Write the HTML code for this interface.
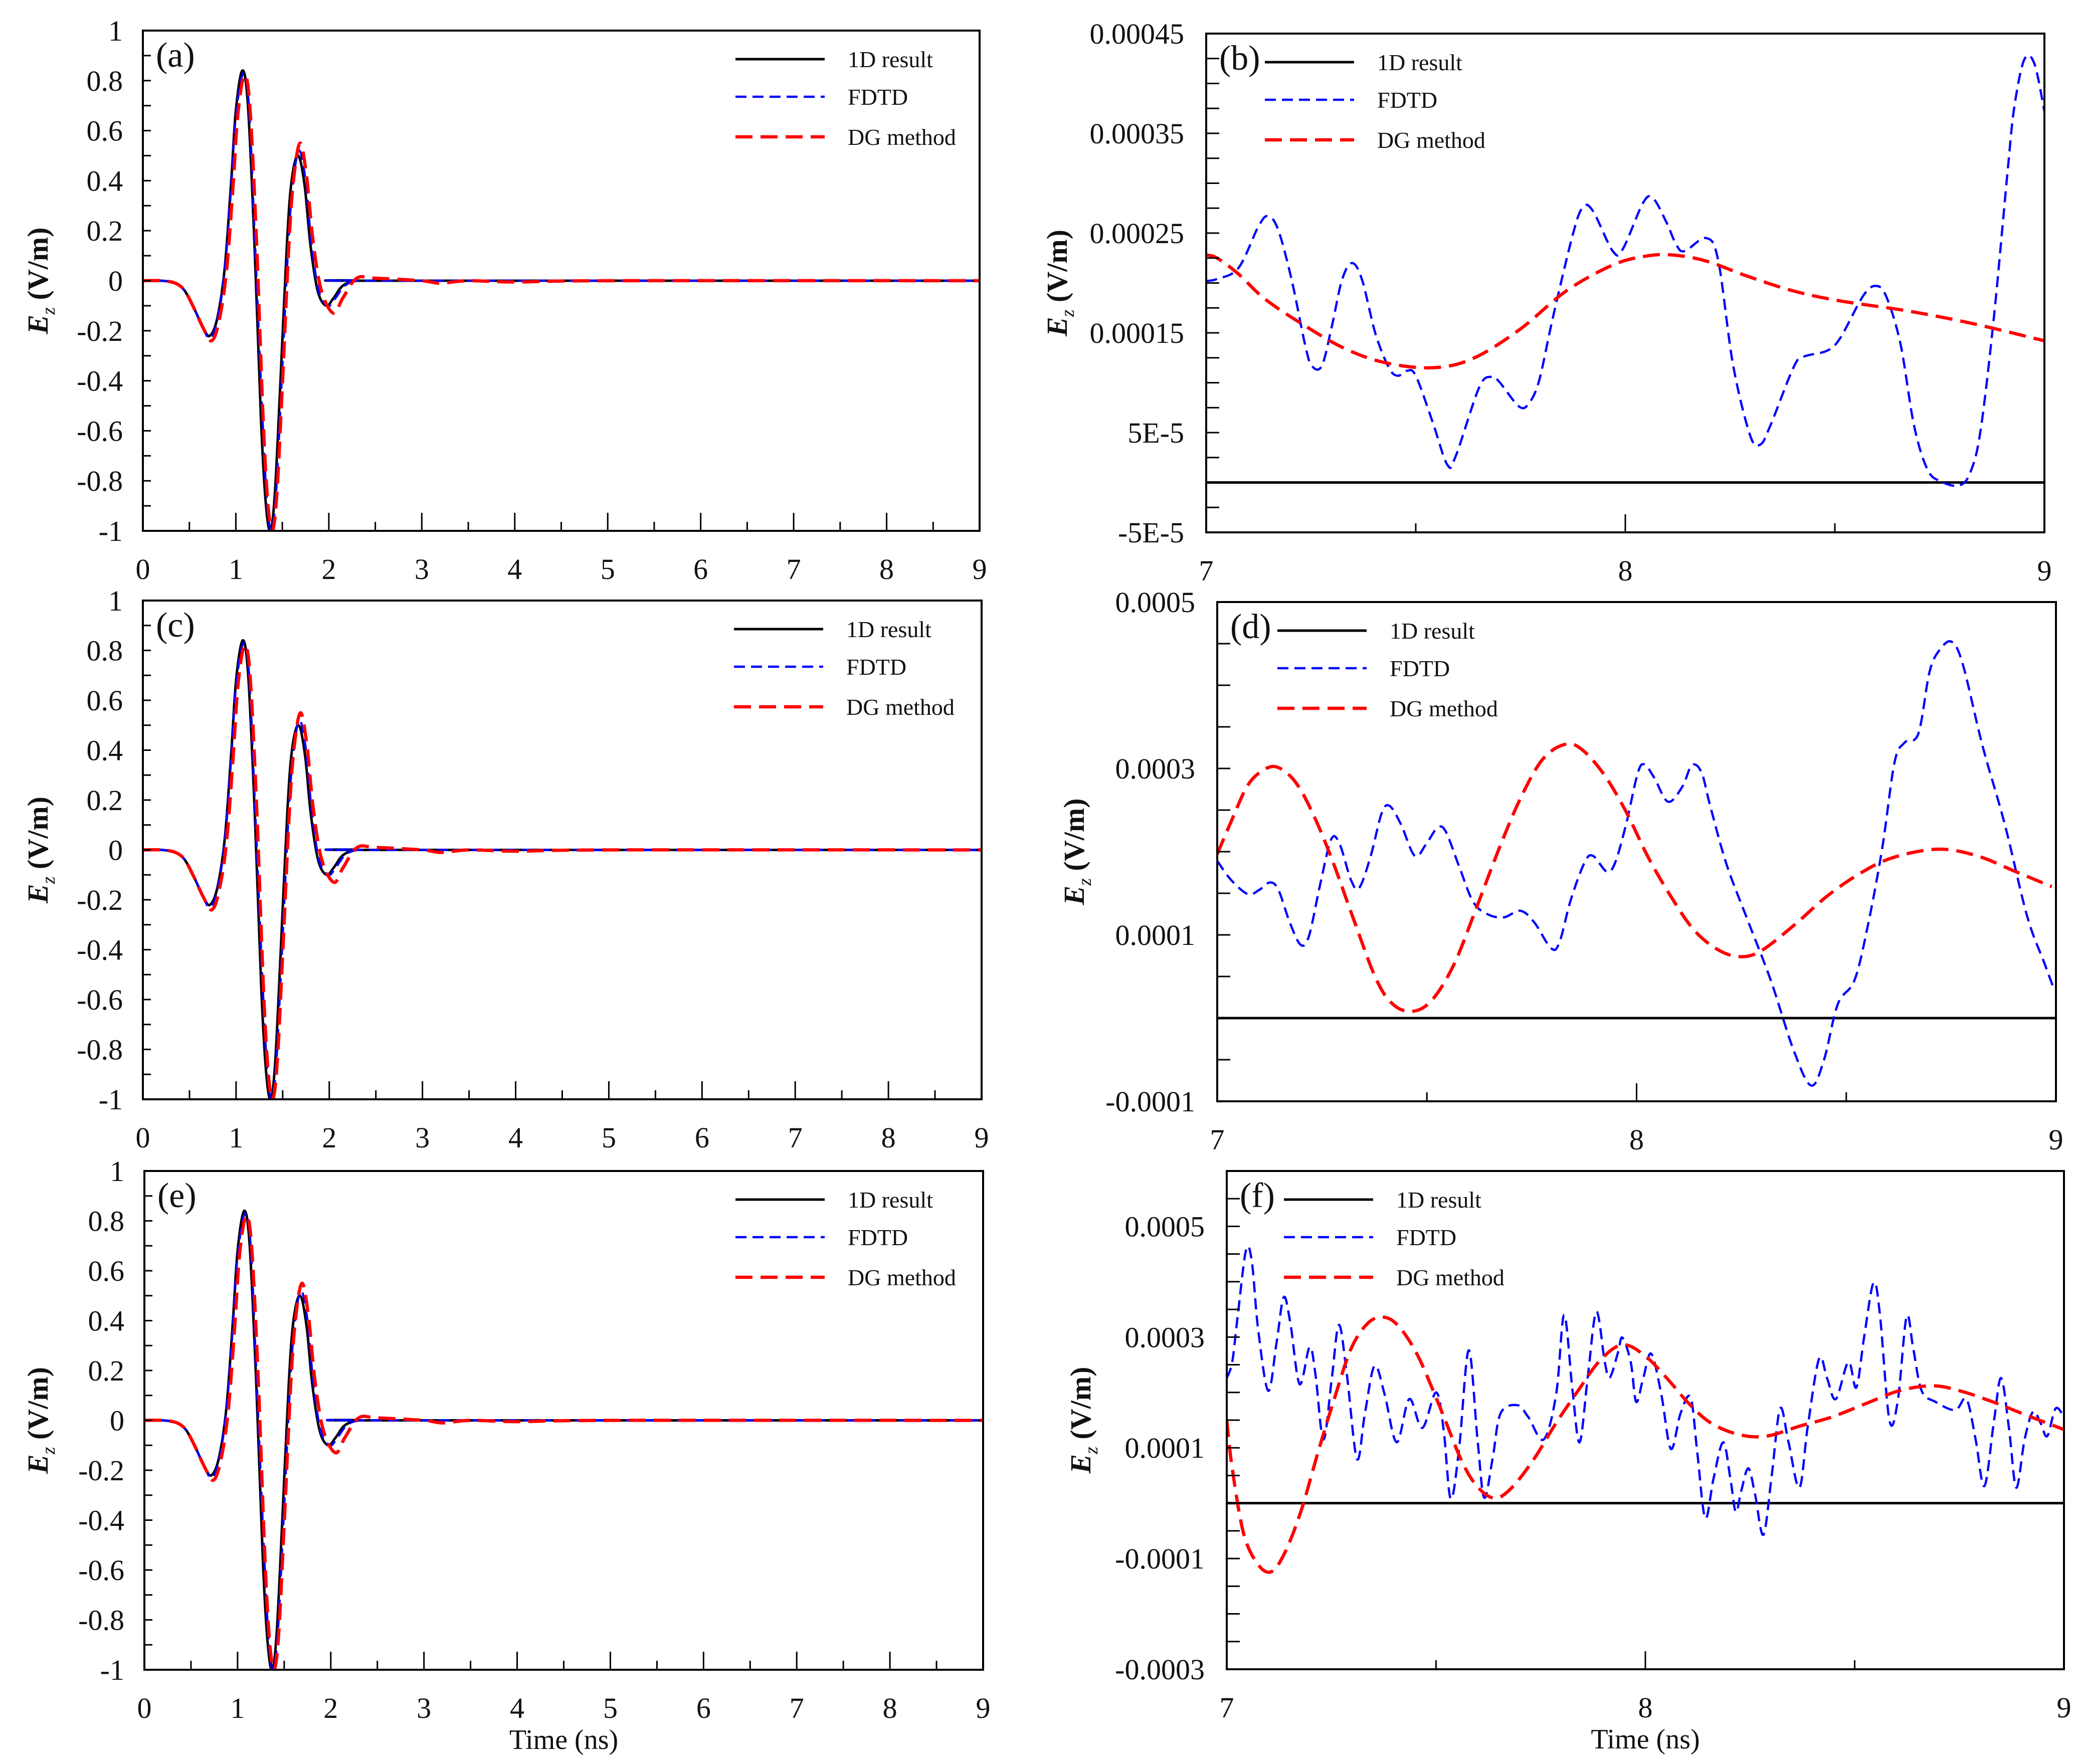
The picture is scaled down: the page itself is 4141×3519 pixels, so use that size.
<!DOCTYPE html>
<html><head><meta charset="utf-8">
<style>
html,body{margin:0;padding:0;background:#fff;}
svg{display:block;}
text{font-family:"Liberation Serif",serif;fill:#111;}
</style></head>
<body>
<svg id="fig" width="4141" height="3519" viewBox="0 0 4141 3519" xmlns="http://www.w3.org/2000/svg"></svg>
<script>
// ---- data: left panels (a),(c),(e) ----
const pulseT1D = [0,0.2,0.35,0.45,0.55,0.65,0.72,0.8,0.88,0.95,1.0,1.07,1.13,1.2,1.27,1.32,1.37,1.42,1.48,1.55,1.6,1.67,1.74,1.8,1.88,1.97,2.05,2.15,2.3,2.5,9];
const pulseV1D = [0,0,-0.01,-0.04,-0.11,-0.19,-0.22,-0.15,0.05,0.4,0.68,0.84,0.7,0.15,-0.55,-0.88,-1.0,-0.85,-0.4,0.15,0.4,0.5,0.38,0.15,-0.04,-0.1,-0.07,-0.02,0,0,0];
const pulseTFD = [0,0.2,0.35,0.45,0.55,0.65,0.72,0.8,0.88,0.95,1.0,1.08,1.14,1.2,1.28,1.33,1.38,1.43,1.49,1.56,1.61,1.68,1.75,1.81,1.89,1.99,2.07,2.17,2.3,2.5,9];
const pulseVFD = [0,0,-0.01,-0.04,-0.11,-0.19,-0.23,-0.16,0.04,0.38,0.66,0.83,0.7,0.2,-0.5,-0.86,-1.0,-0.86,-0.42,0.12,0.38,0.52,0.4,0.16,-0.04,-0.1,-0.07,-0.02,0,0,0];
const pulseTDG = [0,0.2,0.35,0.45,0.55,0.65,0.74,0.82,0.9,0.97,1.02,1.09,1.15,1.22,1.29,1.34,1.39,1.44,1.5,1.57,1.62,1.69,1.76,1.83,1.92,2.05,2.15,2.3,2.5,3.0,3.2,3.5,4.0,5.0,9];
const pulseVDG = [0,0,-0.01,-0.04,-0.11,-0.19,-0.24,-0.16,0.04,0.38,0.66,0.82,0.7,0.18,-0.52,-0.87,-1.0,-0.86,-0.42,0.14,0.4,0.55,0.42,0.16,-0.04,-0.13,-0.07,0.01,0.01,0,-0.01,0,-0.005,0,0];

// ---- data: panel (b) ----
const bFdT = [7.0,7.026,7.077,7.125,7.148,7.172,7.204,7.236,7.252,7.276,7.3,7.324,7.348,7.372,7.404,7.436,7.457,7.479,7.5,7.54,7.575,7.595,7.651,7.68,7.699,7.747,7.771,7.795,7.827,7.875,7.899,7.923,7.97,7.994,8.042,8.066,8.098,8.122,8.142,8.193,8.222,8.257,8.298,8.322,8.346,8.401,8.425,8.481,8.513,8.569,8.601,8.625,8.657,8.689,8.721,8.753,8.797,8.824,8.848,8.88,8.912,8.928,8.952,8.976,9.0];
const bFdV = [20.2,20.4,21.5,25.7,26.7,25.3,20.3,13.8,11.7,11.7,15.7,20.3,22,20.3,14.9,11.5,10.7,11.2,10.7,6.1,1.8,2.6,9.5,10.6,10.1,7.6,8,10.3,16.5,24.9,27.6,27.2,23.2,23.4,28,28.5,26.1,23.8,23.2,24.5,22.2,11.8,4.7,3.8,5.7,11.5,12.6,13.2,14.5,18.8,19.7,18.4,13.8,5.7,1.3,0.1,-0.3,1.1,5.3,16.8,31.1,37.6,42.4,42,37.2];
const bDgT = [7.0,7.026,7.077,7.14,7.236,7.332,7.428,7.54,7.635,7.747,7.859,7.97,8.05,8.114,8.193,8.29,8.401,8.513,8.673,8.832,9.0];
const bDgV = [22.8,22.5,20.9,18.4,15.7,13.4,12.0,11.5,12.4,15.3,19.2,21.8,22.7,22.8,22.2,20.7,19.2,18.2,17.2,15.9,14.2];

// ---- data: panel (d) ----
const dFdT = [7.0,7.033,7.073,7.1,7.126,7.146,7.173,7.199,7.219,7.246,7.272,7.292,7.319,7.338,7.365,7.392,7.411,7.438,7.471,7.498,7.524,7.544,7.577,7.61,7.644,7.683,7.723,7.756,7.796,7.816,7.843,7.876,7.896,7.929,7.949,7.975,8.002,8.018,8.042,8.075,8.109,8.132,8.155,8.175,8.215,8.267,8.321,8.374,8.416,8.447,8.48,8.52,8.553,8.586,8.615,8.639,8.672,8.699,8.725,8.752,8.778,8.825,8.878,8.931,8.971,8.993];
const dFdV = [18.9,16.6,14.9,15.4,16.3,15.4,11.5,8.8,9.9,16.2,21.5,20.9,16.6,15.6,19.3,24.6,25.5,23.3,19.5,20.9,22.8,22.5,18.2,14,12.5,12.1,12.9,11.5,8.4,9.1,14.2,18.7,19.5,17.6,18.7,23.3,29.3,30.5,28.9,26,27.8,30.4,29.5,25.6,18.4,11.5,4.4,-3.8,-8.1,-5,1.7,4.6,11.5,20.5,30.7,33.1,34.2,41.7,44.4,45.2,42.5,32.7,23.3,12.3,6.8,3.8];
const dDgT = [7.0,7.033,7.073,7.113,7.146,7.186,7.226,7.272,7.325,7.378,7.418,7.464,7.511,7.564,7.617,7.67,7.723,7.776,7.829,7.869,7.922,7.975,8.028,8.082,8.135,8.188,8.241,8.294,8.374,8.453,8.533,8.612,8.719,8.812,8.904,8.99];
const dDgV = [19.7,23.6,28,29.9,30.1,28.4,24.8,19.3,11.9,4.8,1.7,0.8,2.1,6.4,13.1,20.1,26.4,31.1,32.9,32.3,29.3,24.8,19.3,14.6,10.7,8.4,7.4,8,11.1,14.6,17.4,19.3,20.3,19.5,17.6,15.8];

// ---- data: panel (f) ----
const fFdT = [7.0,7.013,7.026,7.046,7.06,7.075,7.099,7.119,7.136,7.152,7.174,7.198,7.212,7.231,7.251,7.268,7.287,7.311,7.33,7.353,7.377,7.406,7.436,7.467,7.5,7.518,7.535,7.555,7.578,7.599,7.615,7.635,7.654,7.694,7.72,7.757,7.787,7.806,7.826,7.843,7.863,7.883,7.903,7.915,7.935,7.945,7.965,7.978,7.995,8.014,8.038,8.061,8.084,8.108,8.124,8.143,8.163,8.186,8.203,8.216,8.229,8.246,8.262,8.282,8.302,8.322,8.342,8.368,8.388,8.415,8.434,8.455,8.485,8.504,8.523,8.545,8.56,8.583,8.603,8.624,8.64,8.66,8.693,8.74,8.767,8.789,8.81,8.833,8.85,8.869,8.886,8.906,8.926,8.944,8.96,8.98,9.0];
const fFdV = [22.6,25.5,33.7,45.7,43.6,31.4,20.3,29,37.2,32.5,21.5,28.2,23.2,11.5,22.6,32.2,23.2,8,16.2,24.8,19.7,11,18.8,13.6,20,13.3,0.8,9.8,27.6,11.5,1,8,16.2,17.7,15.6,11.5,19.7,34,20.3,11,23.2,34.6,25.5,22.7,27.3,29.9,25.5,18.3,22.6,27,19.7,9.8,16.2,19.1,9.2,-2.7,4.5,11,4.5,-1.6,2.2,6.3,1.6,-5.7,5.1,17.1,11,2.8,13.9,26.1,22.6,18.8,25.5,20.9,30.2,39.8,34.3,15,18.5,33.7,27.9,20.3,18.3,16.8,18.8,11.5,3.1,15,22.6,13.3,2.8,11.5,16.5,14.5,12.1,17.1,15.6];
const fDgT = [7.0,7.013,7.04,7.073,7.106,7.139,7.178,7.218,7.258,7.297,7.337,7.374,7.41,7.456,7.509,7.562,7.601,7.641,7.681,7.734,7.787,7.839,7.892,7.945,7.998,8.051,8.104,8.156,8.223,8.289,8.368,8.447,8.527,8.606,8.685,8.751,8.83,8.91,9.0];
const fDgV = [15,6.3,-5.4,-10.9,-12.4,-8.9,-1.3,9.2,19.1,27.9,32.5,33.6,32,26.7,17.4,7.5,2.8,0.9,2.8,8,14.5,20.3,25.8,28.6,26.7,22.6,18,14.5,12.4,12.1,13.9,15.6,18,20.3,21.2,20.3,18.3,15.9,13.3];

// tick labels
const leftXLabels = ["0","1","2","3","4","5","6","7","8","9"];
const leftYLabels = ["1","0.8","0.6","0.4","0.2","0","-0.2","-0.4","-0.6","-0.8","-1"];
const rightXLabels = ["7","8","9"];
const bYLabels = ["0.00045","0.00035","0.00025","0.00015","5E-5","-5E-5"];
const dYLabels = ["0.0005","0.0003","0.0001","-0.0001"];
const fYLabels = ["0.0005","0.0003","0.0001","-0.0001","-0.0003"];
const legendNames = ["1D result","FDTD","DG method"];

const NS = "http://www.w3.org/2000/svg";
const svg = document.getElementById('fig');
function mk(tag, attrs, parent){
  const e = document.createElementNS(NS, tag);
  for (const k in attrs) e.setAttribute(k, attrs[k]);
  (parent||svg).appendChild(e);
  return e;
}
function smoothPath(pts){
  let d = "M" + pts[0][0].toFixed(1) + "," + pts[0][1].toFixed(1);
  for (let i=0;i<pts.length-1;i++){
    const p0 = pts[i-1]||pts[i], p1 = pts[i], p2 = pts[i+1], p3 = pts[i+2]||pts[i+1];
    const c1x = p1[0]+(p2[0]-p0[0])/6, c1y = p1[1]+(p2[1]-p0[1])/6;
    const c2x = p2[0]-(p3[0]-p1[0])/6, c2y = p2[1]-(p3[1]-p1[1])/6;
    d += "C"+c1x.toFixed(1)+","+c1y.toFixed(1)+" "+c2x.toFixed(1)+","+c2y.toFixed(1)+" "+p2[0].toFixed(1)+","+p2[1].toFixed(1);
  }
  return d;
}
const styles = [
  {stroke:"#000", w:5, dash:null},
  {stroke:"#0000ff", w:4.5, dash:"22 12"},
  {stroke:"#ff0000", w:6.5, dash:"34 16"}
];

function panel(cfg){
  const g = mk('g', {});
  
  
  const {L,R,T,B,xmin,xmax,ymin,ymax} = cfg;
  const sx = v => L + (v-xmin)/(xmax-xmin)*(R-L);
  const sy = v => B - (v-ymin)/(ymax-ymin)*(B-T);
  const clip = mk('clipPath', {id:'clip'+cfg.id}, g);
  mk('rect', {x:L,y:T,width:R-L,height:B-T}, clip);
  // series
  const sg = mk('g', {'clip-path':'url(#clip'+cfg.id+')'}, g);
  cfg.series.forEach((s,i)=>{
    const pts = s.t.map((t,j)=>[sx(t), sy(s.v[j]*cfg.vScale)]);
    const st = styles[i];
    const p = mk('path', {d: i===0 && s.flat ? "M"+sx(xmin)+","+sy(0)+"L"+sx(xmax)+","+sy(0) : smoothPath(pts), fill:'none', stroke:st.stroke, 'stroke-width':st.w, 'stroke-linejoin':'round'}, sg);
    if (st.dash) p.setAttribute('stroke-dasharray', st.dash);
    
    
  });
  // ticks
  const tg = mk('g', {stroke:'#000','stroke-width':3}, g);
  for (let k=0;;k++){
    const v = xmin + k*cfg.xMinor; if (v > xmax+1e-9) break;
    const major = Math.abs(v/cfg.xMajor - Math.round(v/cfg.xMajor))<1e-6;
    const len = major ? 36 : 18;
    mk('line', {x1:sx(v),x2:sx(v),y1:B,y2:B-len}, tg);
  }
  for (let k=0;;k++){
    const v = ymin + k*cfg.yMinor; if (v > ymax+1e-12) break;
    const len = cfg.yTickLen;
    mk('line', {x1:L,x2:L+len,y1:sy(v),y2:sy(v)}, tg);
  }
  // frame
  const fr = mk('rect', {x:L,y:T,width:R-L,height:B-T,fill:'none',stroke:'#000','stroke-width':4}, g);
  
  
  // x tick labels
  cfg.xLabels.forEach((lab,i)=>{
    const v = xmin + i*cfg.xLabelStep;
    const t = mk('text', {x:sx(v), y:B+96, 'text-anchor':'middle','font-size':58}, g);
    t.textContent = lab;
    
    
  });
  // y tick labels
  cfg.yLabels.forEach((lab,i)=>{
    const v = cfg.yLabelStart - i*cfg.yLabelStep;
    const t = mk('text', {x:L-cfg.yLabelGap, y:sy(v)+20, 'text-anchor':'end','font-size':58}, g);
    t.textContent = lab;
    
    
  });
  // y title
  const yt = mk('text', {transform:'translate('+cfg.yTitleX+','+((T+B)/2)+') rotate(-90)','text-anchor':'middle','font-size':58,'font-weight':'bold'}, g);
  yt.innerHTML = '<tspan font-style="italic">E</tspan><tspan font-size="38" dy="14" font-weight="normal" font-style="italic">z</tspan><tspan dy="-14"> (V/m)</tspan>';
  
  
  // panel label
  const pl = mk('text', {x:L+26, y:T+72, 'font-size':70}, g);
  pl.textContent = '(' + cfg.id + ')';
  
  
  // legend
  const lg = mk('g', {}, g);
  
  
  const offs = [57,132,212];
  legendNames.forEach((name,i)=>{
    const y = T + offs[i];
    const st = styles[i];
    const ln = mk('line', {x1:cfg.legX, x2:cfg.legX+178, y1:y, y2:y, stroke:st.stroke, 'stroke-width':st.w}, lg);
    if (st.dash) ln.setAttribute('stroke-dasharray', st.dash);
    
    
    const tx = mk('text', {x:cfg.legX+224, y:y+16, 'font-size':46}, lg);
    tx.textContent = name;
    
    
  });
  // x title
  if (cfg.xTitle){
    const xt = mk('text', {x:(L+R)/2, y:B+158, 'text-anchor':'middle','font-size':56}, g);
    xt.textContent = 'Time (ns)';
    
    
  }
}

const leftSeries = [
  {t:pulseT1D, v:pulseV1D},
  {t:pulseTFD, v:pulseVFD},
  {t:pulseTDG, v:pulseVDG}
];
const leftBase = {xmin:0,xmax:9,ymin:-1,ymax:1,vScale:1,xMinor:0.5,xMajor:1,yMinor:0.1,yTickLen:16,
  xLabels:leftXLabels,xLabelStep:1,yLabels:leftYLabels,yLabelStart:1,yLabelStep:0.2,yLabelGap:40,yTitleX:95,series:leftSeries};
panel(Object.assign({}, leftBase, {id:'a',L:285,R:1954,T:61,B:1059,legX:1467}));
panel(Object.assign({}, leftBase, {id:'c',L:285,R:1958,T:1198,B:2193,legX:1464}));
panel(Object.assign({}, leftBase, {id:'e',L:288,R:1961,T:2336,B:3331,legX:1467,xTitle:true}));

panel({id:'b',L:2406,R:4078,T:67,B:1062,xmin:7,xmax:9,ymin:-5e-5,ymax:4.5e-4,vScale:1e-5,xMinor:0.5,xMajor:1,yMinor:2.5e-5,yTickLen:26,
  xLabels:rightXLabels,xLabelStep:1,yLabels:bYLabels,yLabelStart:4.5e-4,yLabelStep:1e-4,yLabelGap:44,yTitleX:2128,legX:2523,
  series:[{t:[7,9],v:[0,0],flat:true},{t:bFdT,v:bFdV},{t:bDgT,v:bDgV}]});
panel({id:'d',L:2428,R:4101,T:1201,B:2197,xmin:7,xmax:9,ymin:-1e-4,ymax:5e-4,vScale:1e-5,xMinor:0.5,xMajor:1,yMinor:5e-5,yTickLen:26,
  xLabels:rightXLabels,xLabelStep:1,yLabels:dYLabels,yLabelStart:5e-4,yLabelStep:2e-4,yLabelGap:44,yTitleX:2162,legX:2548,
  series:[{t:[7,9],v:[0,0],flat:true},{t:dFdT,v:dFdV},{t:dDgT,v:dDgV}]});
panel({id:'f',L:2447,R:4117,T:2336,B:3330,xmin:7,xmax:9,ymin:-3e-4,ymax:6e-4,vScale:1e-5,xMinor:0.5,xMajor:1,yMinor:5e-5,yTickLen:26,
  xLabels:rightXLabels,xLabelStep:1,yLabels:fYLabels,yLabelStart:5e-4,yLabelStep:2e-4,yLabelGap:44,yTitleX:2175,legX:2561,xTitle:true,
  series:[{t:[7,9],v:[0,0],flat:true},{t:fFdT,v:fFdV},{t:fDgT,v:fDgV}]});
</script>
</body></html>
